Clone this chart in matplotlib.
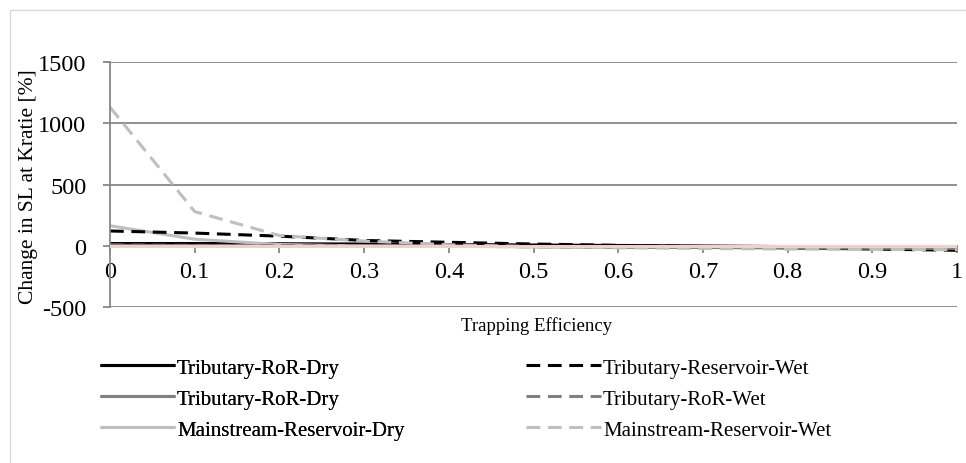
import numpy as np
import matplotlib
matplotlib.use("Agg")
import matplotlib.pyplot as plt
from matplotlib.patches import Rectangle

plt.rcParams['font.family'] = ['Liberation Serif', 'DejaVu Serif']
plt.rcParams['axes.unicode_minus'] = False

# trapping efficiency steps
te = [0.0, 0.1, 0.2, 0.3, 0.4, 0.5, 0.6, 0.7, 0.8, 0.9, 1.0]

# change in sediment load at Kratie [%]
trib_ror_dry_a = [20, 20, 18, 16, 12, 8, 4, 0, -5, -10, -15]
trib_res_wet = [122, 105, 80, 45, 30, 16, 5, -5, -15, -25, -35]
trib_ror_dry_b = [5, 3, 2, 0, -2, -5, -8, -10, -12, -14, -16]
trib_ror_wet = [8, 5, 3, 0, -3, -6, -9, -12, -15, -18, -20]
main_res_dry = [165, 55, 12, 0, -3, -6, -9, -12, -15, -18, -20]
main_res_wet = [1130, 280, 85, 40, 10, -5, -15, -20, -25, -28, -30]

series = [
    ("Tributary-RoR-Dry", trib_ror_dry_a, "#000000", "-"),
    ("Tributary-RoR-Dry", trib_ror_dry_b, "#808080", "-"),
    ("Mainstream-Reservoir-Dry", main_res_dry, "#bfbfbf", "-"),
    ("Tributary-Reservoir-Wet", trib_res_wet, "#000000", "--"),
    ("Tributary-RoR-Wet", trib_ror_wet, "#808080", "--"),
    ("Mainstream-Reservoir-Wet", main_res_wet, "#bfbfbf", "--"),
]

W, H = 966, 464
fig = plt.figure(figsize=(W / 100, H / 100), dpi=100)

# chart frame
fig.patches.append(Rectangle((10 / W, -0.1), 1.2, 1 - 11 / H + 0.1,
                             transform=fig.transFigure, fill=False,
                             edgecolor="#d9d9d9", linewidth=1.0))

ax = fig.add_axes([110 / W, 1 - 308.4 / H, 847 / W, 245.7 / H])
ax.set_xlim(0, 1)
ax.set_ylim(-500, 1500)
ax.set_yticks([-500, 0, 500, 1000, 1500])
ax.set_xticks(te)
ax.set_xticklabels(["0", "0.1", "0.2", "0.3", "0.4", "0.5", "0.6", "0.7", "0.8", "0.9", "1"])
ax.grid(axis="y", color="#878787", linewidth=1.3)
ax.set_axisbelow(True)

for s in ["top", "right"]:
    ax.spines[s].set_visible(False)
ax.spines["left"].set_color("#878787")
ax.spines["left"].set_linewidth(1.3)
ax.spines["bottom"].set_position(("data", 0))
ax.spines["bottom"].set_color("#878787")
ax.spines["bottom"].set_linewidth(1.3)

ax.tick_params(axis="both", colors="#878787", labelcolor="black",
               labelsize=17.5, length=5, width=1.3, direction="out")
ax.tick_params(axis="y", pad=12)
ax.tick_params(axis="x", pad=6)

handles = []
for label, vals, color, ls in series:
    (ln,) = ax.plot(te, vals, color=color, linewidth=2.2, linestyle=ls,
                    solid_capstyle="butt", dash_capstyle="butt", label=label)
    if ls == "--":
        ln.set_dashes((4.5, 2.5))
    handles.append(ln)

# zero line drawn on top of the series
ax.axhline(0, color="#f0cfcf", linewidth=2.2, zorder=5)

fig.text(29 / W, 1 - 187 / H, "Change in SL at Kratie [%]", rotation=90,
         ha="center", va="center", fontsize=15.5)
fig.text(537 / W, 1 - 326 / H, "Trapping Efficiency", ha="center",
         va="center", fontsize=13.5)

leg_kw = dict(loc="upper left", frameon=False, fontsize=15, borderpad=0,
              borderaxespad=0, handlelength=3.6, handletextpad=0.1,
              labelspacing=0.55)
leg1 = fig.legend(handles[:3], [s[0] for s in series[:3]],
                  bbox_to_anchor=(100 / W, 1 - 359 / H), **leg_kw)
fig.add_artist(leg1)
fig.legend(handles[3:], [s[0] for s in series[3:]],
           bbox_to_anchor=(526 / W, 1 - 359 / H), **leg_kw)

fig.savefig("out.png", dpi=100)
